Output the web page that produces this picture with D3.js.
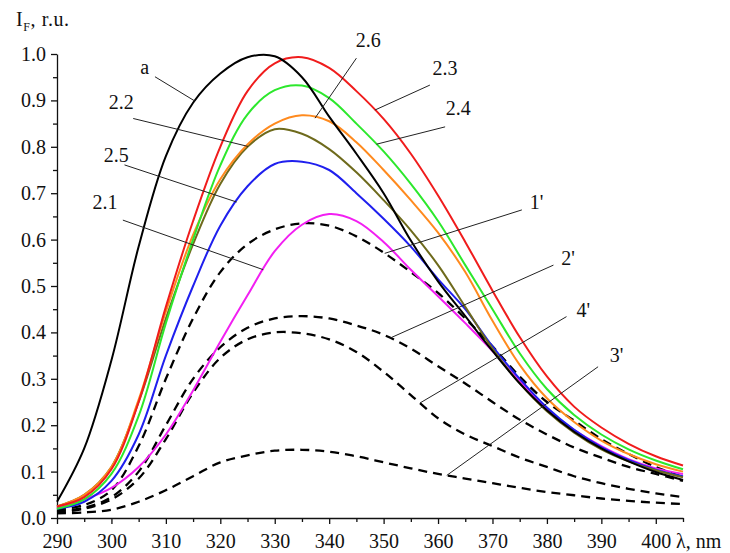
<!DOCTYPE html>
<html>
<head>
<meta charset="utf-8">
<script src="https://cdn.jsdelivr.net/npm/d3@7"></script>
<style>
body { margin: 0; background: #fff; }
svg text { font-family: "Liberation Serif", "Times New Roman", serif; fill: #111; }
</style>
</head>
<body>
<div id="chart"></div>
<script>
// wavelength grid, nm
var wavelengths = [290, 295, 300, 305, 310, 315, 320, 325, 330, 335, 340, 345,
                   350, 355, 360, 365, 370, 375, 380, 385, 390, 395, 400, 405];

// solid curves
var curveA   = [0.035, 0.15, 0.34, 0.585, 0.78, 0.895, 0.958, 0.993, 0.995, 0.95, 0.865, 0.785,
                0.70, 0.598, 0.51, 0.435, 0.36, 0.29, 0.232, 0.186, 0.15, 0.122, 0.099, 0.082];
var curve23  = [0.025, 0.045, 0.105, 0.25, 0.455, 0.64, 0.80, 0.92, 0.98, 0.993, 0.97, 0.92,
                0.86, 0.785, 0.695, 0.595, 0.49, 0.39, 0.305, 0.24, 0.195, 0.16, 0.133, 0.113];
var curve24  = [0.02, 0.04, 0.095, 0.22, 0.42, 0.60, 0.76, 0.87, 0.922, 0.932, 0.905, 0.85,
                0.79, 0.72, 0.64, 0.545, 0.45, 0.355, 0.278, 0.222, 0.18, 0.148, 0.124, 0.105];
var curve26  = [0.025, 0.05, 0.11, 0.255, 0.445, 0.61, 0.73, 0.805, 0.85, 0.868, 0.855, 0.81,
                0.75, 0.685, 0.615, 0.53, 0.425, 0.33, 0.258, 0.207, 0.167, 0.138, 0.116, 0.10];
var curve22  = [0.025, 0.05, 0.11, 0.25, 0.43, 0.59, 0.72, 0.80, 0.838, 0.828, 0.795, 0.745,
                0.685, 0.62, 0.545, 0.455, 0.365, 0.29, 0.23, 0.184, 0.148, 0.122, 0.103, 0.088];
var curve25  = [0.02, 0.035, 0.08, 0.18, 0.35, 0.50, 0.63, 0.715, 0.763, 0.768, 0.75, 0.70,
                0.645, 0.585, 0.515, 0.45, 0.37, 0.30, 0.238, 0.19, 0.153, 0.125, 0.104, 0.09];
var curve21  = [0.022, 0.04, 0.065, 0.11, 0.18, 0.275, 0.38, 0.48, 0.575, 0.632, 0.655, 0.64,
                0.595, 0.535, 0.478, 0.42, 0.36, 0.295, 0.235, 0.19, 0.155, 0.127, 0.107, 0.095];

// dashed curves
var curve1p  = [0.018, 0.028, 0.06, 0.155, 0.30, 0.43, 0.53, 0.59, 0.622, 0.635, 0.63, 0.607,
                0.572, 0.53, 0.485, 0.43, 0.37, 0.305, 0.25, 0.21, 0.17, 0.138, 0.11, 0.088];
var curve2p  = [0.015, 0.022, 0.045, 0.10, 0.20, 0.30, 0.368, 0.41, 0.43, 0.435, 0.43, 0.415,
                0.395, 0.365, 0.327, 0.29, 0.25, 0.212, 0.18, 0.152, 0.13, 0.11, 0.095, 0.08];
var curve4p  = [0.012, 0.02, 0.04, 0.085, 0.17, 0.27, 0.345, 0.385, 0.40, 0.398, 0.385, 0.358,
                0.315, 0.265, 0.215, 0.18, 0.155, 0.13, 0.11, 0.09, 0.075, 0.063, 0.053, 0.045];
var curve3p  = [0.01, 0.012, 0.018, 0.035, 0.06, 0.09, 0.12, 0.135, 0.145, 0.147, 0.143, 0.133,
                0.12, 0.107, 0.095, 0.085, 0.075, 0.065, 0.056, 0.049, 0.042, 0.037, 0.033, 0.03];

var xTickValues = [290, 300, 310, 320, 330, 340, 350, 360, 370, 380, 390, 400];
var yTickValues = [0.0, 0.1, 0.2, 0.3, 0.4, 0.5, 0.6, 0.7, 0.8, 0.9, 1.0];

var series = [
    { key: "1'",  values: curve1p, color: "#000",    dashed: true },
    { key: "2'",  values: curve2p, color: "#000",    dashed: true },
    { key: "4'",  values: curve4p, color: "#000",    dashed: true },
    { key: "3'",  values: curve3p, color: "#000",    dashed: true },
    { key: "2.1", values: curve21, color: "#f21ff2", dashed: false },
    { key: "2.5", values: curve25, color: "#1f1fee", dashed: false },
    { key: "2.2", values: curve22, color: "#6e6a1c", dashed: false },
    { key: "2.6", values: curve26, color: "#ff8a1e", dashed: false },
    { key: "2.4", values: curve24, color: "#2ce82c", dashed: false },
    { key: "2.3", values: curve23, color: "#f01c1c", dashed: false },
    { key: "a",   values: curveA,  color: "#000",    dashed: false }
];

// label text position, start of leader line, and the wavelength where it meets its curve
var labels = [
    { text: "a",   x: 306.1, y: 0.973, fx: 308.0, fy: 0.951, at: 315.3 },
    { text: "2.2", x: 301.8, y: 0.897, fx: 304.0, fy: 0.861, at: 325.1 },
    { text: "2.5", x: 300.9, y: 0.782, fx: 302.4, fy: 0.761, at: 323.0 },
    { text: "2.1", x: 298.8, y: 0.680, fx: 302.1, fy: 0.642, at: 327.9 },
    { text: "2.6", x: 347.2, y: 1.030, fx: 345.0, fy: 0.991, at: 337.4 },
    { text: "2.3", x: 361.3, y: 0.969, fx: 358.5, fy: 0.933, at: 348.4 },
    { text: "2.4", x: 363.7, y: 0.883, fx: 361.3, fy: 0.843, at: 348.7 },
    { text: "1'",  x: 378.1, y: 0.682, fx: 375.4, fy: 0.664, at: 350.2 },
    { text: "2'",  x: 383.9, y: 0.560, fx: 381.2, fy: 0.545, at: 351.2 },
    { text: "4'",  x: 386.7, y: 0.448, fx: 383.6, fy: 0.434, at: 356.7 },
    { text: "3'",  x: 392.8, y: 0.351, fx: 389.4, fy: 0.326, at: 361.6 }
];

function valueAt(key, w) {
    var s = series.filter(function(d) { return d.key == key; })[0];
    var i = d3.bisectRight(wavelengths, w) - 1;
    i = Math.max(0, Math.min(i, wavelengths.length - 2));
    var t = (w - wavelengths[i]) / (wavelengths[i + 1] - wavelengths[i]);
    return s.values[i] + t * (s.values[i + 1] - s.values[i]);
}

function drawChart() {
    var svg = d3.select("#chart").append("svg")
        .attr("width", 730)
        .attr("height", 553);
    svg.append("rect").attr("width", 730).attr("height", 553).attr("fill", "#fff");

    var x = d3.scaleLinear().domain([290, 405]).range([57, 683]);
    var y = d3.scaleLinear().domain([0, 1]).range([518, 54]);

    // minor ticks first
    svg.append("g")
        .attr("transform", "translate(0,518)")
        .call(d3.axisBottom(x).tickValues(d3.range(295, 406, 10)).tickSize(4).tickFormat(""))
        .call(function(g) { g.select(".domain").remove(); });
    svg.append("g")
        .attr("transform", "translate(57,0)")
        .call(d3.axisLeft(y).tickValues(d3.range(0.05, 1, 0.1)).tickSize(4).tickFormat(""))
        .call(function(g) { g.select(".domain").remove(); });

    svg.append("g")
        .attr("transform", "translate(0,518)")
        .call(d3.axisBottom(x).tickValues(xTickValues).tickSize(6).tickSizeOuter(0).tickPadding(10));
    svg.append("g")
        .attr("transform", "translate(57,0)")
        .call(d3.axisLeft(y).tickValues(yTickValues).tickSize(6).tickSizeOuter(0).tickPadding(5)
            .tickFormat(d3.format(".1f")));

    svg.selectAll(".tick line, .domain").attr("stroke", "#111").attr("stroke-width", 1.3);
    svg.selectAll(".tick text")
        .attr("font-family", "Liberation Serif, serif")
        .attr("font-size", 20)
        .attr("fill", "#111");

    // axis titles
    svg.append("text")
        .attr("x", x(405) - 7)
        .attr("y", 548)
        .attr("font-size", 20)
        .text("λ, nm");

    var title = svg.append("text")
        .attr("x", 16)
        .attr("y", 26)
        .attr("font-size", 20)
        .attr("letter-spacing", 0.6);
    title.append("tspan").text("I");
    title.append("tspan").attr("font-size", 12).attr("dy", 5).text("F");
    title.append("tspan").attr("dy", -5).text(", r.u.");

    // curves
    var line = d3.line()
        .x(function(d, i) { return x(wavelengths[i]); })
        .y(function(d) { return y(d); })
        .curve(d3.curveCatmullRom.alpha(0.5));

    svg.append("g").attr("class", "data")
        .selectAll("path")
        .data(series)
        .enter()
        .append("path")
        .attr("d", function(d) { return line(d.values); })
        .attr("fill", "none")
        .attr("stroke", function(d) { return d.color; })
        .attr("stroke-width", function(d) { return d.dashed ? 2.3 : 2; })
        .attr("stroke-dasharray", function(d) { return d.dashed ? "9,6" : null; });

    // leader lines and labels
    var g = svg.append("g").attr("class", "labels");
    g.selectAll("line")
        .data(labels)
        .enter()
        .append("line")
        .attr("x1", function(d) { return x(d.fx); })
        .attr("y1", function(d) { return y(d.fy); })
        .attr("x2", function(d) { return x(d.at); })
        .attr("y2", function(d) { return y(valueAt(d.text, d.at)); })
        .attr("stroke", "#222")
        .attr("stroke-width", 1);

    g.selectAll("text")
        .data(labels)
        .enter()
        .append("text")
        .attr("x", function(d) { return x(d.x); })
        .attr("y", function(d) { return y(d.y); })
        .attr("text-anchor", "middle")
        .attr("dy", "0.35em")
        .attr("font-size", 20)
        .text(function(d) { return d.text; });
}

drawChart();
</script>
</body>
</html>
